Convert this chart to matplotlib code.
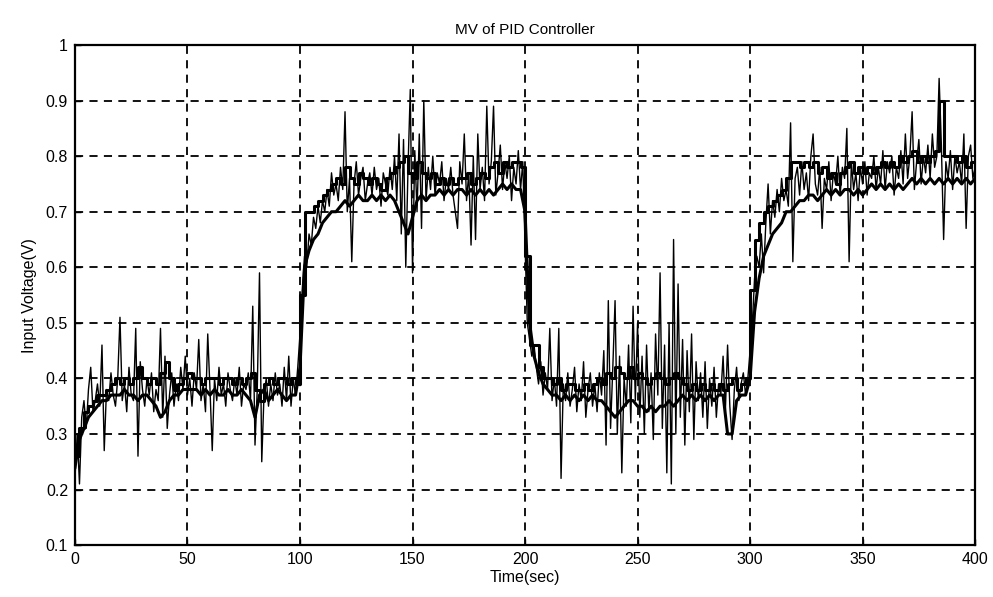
import numpy as np
import matplotlib
matplotlib.use("Agg")
import matplotlib.pyplot as plt

plt.rcParams['font.family'] = ['Liberation Sans', 'DejaVu Sans']

# Controller output (manipulated variable) of three runs
t_coarse = np.arange(0, 401, 2)   # 2 s sampling
t_fine = np.arange(0, 401, 1)     # 1 s sampling

mv_upper = [
    0.26, 0.31, 0.34, 0.35, 0.36, 0.37, 0.37, 0.38, 0.39, 0.40,
    0.39, 0.40, 0.39, 0.40, 0.42, 0.40, 0.39, 0.40, 0.39, 0.41,
    0.43, 0.40, 0.38, 0.39, 0.40, 0.41, 0.40, 0.40, 0.39, 0.40,
    0.40, 0.40, 0.39, 0.40, 0.40, 0.39, 0.40, 0.39, 0.40, 0.41,
    0.38, 0.36, 0.39, 0.40, 0.39, 0.40, 0.40, 0.39, 0.40, 0.39,
    0.55, 0.70, 0.70, 0.71, 0.72, 0.73, 0.74, 0.75, 0.76, 0.75,
    0.78, 0.76, 0.75, 0.77, 0.76, 0.75, 0.76, 0.75, 0.74, 0.76,
    0.77, 0.78, 0.79, 0.80, 0.77, 0.76, 0.79, 0.77, 0.76, 0.77,
    0.75, 0.76, 0.75, 0.76, 0.75, 0.76, 0.76, 0.77, 0.75, 0.76,
    0.77, 0.76, 0.78, 0.79, 0.77, 0.79, 0.78, 0.79, 0.79, 0.78,
    0.62, 0.46, 0.46, 0.42, 0.40, 0.40, 0.39, 0.40, 0.38, 0.39,
    0.39, 0.38, 0.38, 0.39, 0.38, 0.39, 0.40, 0.39, 0.41, 0.40,
    0.42, 0.41, 0.40, 0.42, 0.40, 0.41, 0.40, 0.39, 0.40, 0.41,
    0.40, 0.39, 0.40, 0.41, 0.40, 0.39, 0.38, 0.39, 0.38, 0.39,
    0.38, 0.39, 0.38, 0.39, 0.38, 0.39, 0.40, 0.38, 0.39, 0.40,
    0.56, 0.65, 0.68, 0.70, 0.71, 0.72, 0.73, 0.74, 0.76, 0.79,
    0.79, 0.78, 0.79, 0.78, 0.79, 0.77, 0.78, 0.76, 0.77, 0.75,
    0.77, 0.78, 0.79, 0.77, 0.78, 0.77, 0.78, 0.77, 0.78, 0.79,
    0.78, 0.79, 0.78, 0.80, 0.79, 0.80, 0.81, 0.79, 0.80, 0.79,
    0.80, 0.81, 0.90, 0.80, 0.80, 0.80, 0.79, 0.80, 0.78, 0.79, 0.78,
]

mv_lower = [
    0.24, 0.29, 0.31, 0.33, 0.34, 0.35, 0.36, 0.36, 0.37, 0.37,
    0.37, 0.38, 0.37, 0.37, 0.36, 0.37, 0.37, 0.36, 0.35, 0.33,
    0.34, 0.36, 0.37, 0.37, 0.38, 0.38, 0.38, 0.38, 0.37, 0.38,
    0.37, 0.38, 0.37, 0.37, 0.38, 0.37, 0.37, 0.38, 0.37, 0.36,
    0.33, 0.37, 0.38, 0.36, 0.37, 0.38, 0.37, 0.36, 0.37, 0.37,
    0.42, 0.60, 0.63, 0.65, 0.66, 0.68, 0.69, 0.70, 0.70, 0.71,
    0.72, 0.71, 0.72, 0.73, 0.72, 0.72, 0.73, 0.72, 0.73, 0.72,
    0.73, 0.72, 0.70, 0.68, 0.66, 0.69, 0.72, 0.73, 0.72, 0.73,
    0.73, 0.74, 0.73, 0.74, 0.73, 0.74, 0.74, 0.73, 0.74, 0.73,
    0.74, 0.73, 0.74, 0.73, 0.74, 0.75, 0.74, 0.75, 0.74, 0.74,
    0.70, 0.50, 0.44, 0.41, 0.39, 0.38, 0.37, 0.37, 0.36, 0.37,
    0.36, 0.37, 0.36, 0.37, 0.36, 0.37, 0.36, 0.36, 0.35, 0.34,
    0.33, 0.34, 0.35, 0.36, 0.36, 0.35, 0.35, 0.34, 0.35, 0.34,
    0.35, 0.35, 0.36, 0.35, 0.36, 0.37, 0.36, 0.37, 0.36, 0.37,
    0.36, 0.37, 0.36, 0.37, 0.37, 0.30, 0.30, 0.36, 0.37, 0.37,
    0.40, 0.52, 0.58, 0.62, 0.64, 0.66, 0.67, 0.68, 0.70, 0.70,
    0.71, 0.72, 0.72, 0.73, 0.73, 0.72, 0.73, 0.74, 0.73, 0.74,
    0.73, 0.74, 0.74, 0.73, 0.74, 0.73, 0.74, 0.75, 0.74, 0.75,
    0.74, 0.75, 0.74, 0.75, 0.74, 0.75, 0.76, 0.75, 0.76, 0.75,
    0.76, 0.75, 0.76, 0.75, 0.76, 0.75, 0.76, 0.75, 0.76, 0.75, 0.76,
]

mv_noisy = [
    0.22, 0.30, 0.21, 0.33, 0.36, 0.31, 0.38, 0.42, 0.34, 0.36,
    0.39, 0.35, 0.46, 0.27, 0.38, 0.36, 0.41, 0.37, 0.35, 0.40,
    0.51, 0.36, 0.39, 0.34, 0.42, 0.37, 0.36, 0.49, 0.26, 0.43,
    0.38, 0.35, 0.40, 0.37, 0.41, 0.34, 0.38, 0.36, 0.49, 0.33,
    0.44, 0.31, 0.37, 0.41, 0.35, 0.39, 0.36, 0.42, 0.38, 0.44,
    0.37, 0.40, 0.35, 0.41, 0.38, 0.47, 0.36, 0.39, 0.34, 0.48,
    0.38, 0.27, 0.40, 0.36, 0.42, 0.37, 0.39, 0.35, 0.41, 0.38,
    0.36, 0.40, 0.37, 0.42, 0.35, 0.39, 0.38, 0.41, 0.36, 0.53,
    0.28, 0.38, 0.59, 0.25, 0.37, 0.40, 0.35, 0.39, 0.36, 0.41,
    0.37, 0.39, 0.35, 0.42, 0.36, 0.44, 0.35, 0.40, 0.37, 0.42,
    0.48, 0.56, 0.62, 0.60, 0.66, 0.64, 0.69, 0.67, 0.71, 0.68,
    0.72, 0.70, 0.74, 0.71, 0.77, 0.73, 0.75, 0.72, 0.78, 0.74,
    0.88, 0.70, 0.76, 0.61, 0.75, 0.79, 0.73, 0.76, 0.78, 0.72,
    0.75, 0.77, 0.73, 0.78, 0.74, 0.76, 0.71, 0.77, 0.75, 0.73,
    0.78, 0.74, 0.80, 0.72, 0.84, 0.66, 0.83, 0.60, 0.78, 0.92,
    0.59, 0.81, 0.70, 0.84, 0.67, 0.90, 0.72, 0.78, 0.74, 0.80,
    0.73, 0.77, 0.75, 0.79, 0.72, 0.76, 0.74, 0.78, 0.73, 0.70,
    0.67, 0.79, 0.75, 0.84, 0.72, 0.77, 0.64, 0.80, 0.65, 0.84,
    0.74, 0.78, 0.72, 0.89, 0.75, 0.79, 0.89, 0.73, 0.77, 0.82,
    0.74, 0.79, 0.76, 0.80, 0.72, 0.78, 0.75, 0.81, 0.74, 0.79,
    0.64, 0.50, 0.47, 0.44, 0.46, 0.42, 0.39, 0.43, 0.37, 0.41,
    0.38, 0.49, 0.36, 0.40, 0.35, 0.49, 0.22, 0.39, 0.36, 0.41,
    0.35, 0.38, 0.42, 0.34, 0.39, 0.36, 0.43, 0.33, 0.38, 0.41,
    0.35, 0.39, 0.34, 0.41, 0.37, 0.45, 0.28, 0.54, 0.31, 0.42,
    0.54, 0.30, 0.44, 0.23, 0.40, 0.35, 0.46, 0.32, 0.53, 0.36,
    0.50, 0.33, 0.44, 0.30, 0.46, 0.34, 0.41, 0.29, 0.48, 0.37,
    0.59, 0.31, 0.46, 0.23, 0.50, 0.21, 0.65, 0.30, 0.57, 0.33,
    0.47, 0.28, 0.45, 0.34, 0.48, 0.29, 0.43, 0.36, 0.41, 0.33,
    0.43, 0.31, 0.40, 0.35, 0.42, 0.33, 0.39, 0.37, 0.44, 0.34,
    0.46, 0.35, 0.29, 0.38, 0.42, 0.36, 0.39, 0.41, 0.37, 0.40,
    0.45, 0.50, 0.58, 0.62, 0.60, 0.66, 0.59, 0.68, 0.75, 0.66,
    0.72, 0.69, 0.74, 0.70, 0.76, 0.72, 0.74, 0.71, 0.86, 0.61,
    0.76, 0.78, 0.73, 0.79, 0.74, 0.77, 0.72, 0.80, 0.84, 0.75,
    0.73, 0.78, 0.67, 0.76, 0.74, 0.79, 0.72, 0.77, 0.75, 0.80,
    0.73, 0.78, 0.76, 0.85, 0.61, 0.79, 0.74, 0.77, 0.72, 0.78,
    0.75, 0.79, 0.73, 0.77, 0.76, 0.80, 0.74, 0.78, 0.75, 0.81,
    0.74, 0.79, 0.77, 0.80, 0.73, 0.78, 0.76, 0.81, 0.75, 0.84,
    0.76, 0.80, 0.88, 0.74, 0.79, 0.83, 0.75, 0.80, 0.77, 0.82,
    0.76, 0.84, 0.78, 0.80, 0.94, 0.82, 0.65, 0.79, 0.76, 0.81,
    0.74, 0.80, 0.77, 0.79, 0.75, 0.84, 0.67, 0.80, 0.82, 0.76,
    0.78,
]

x_ticks = [0, 50, 100, 150, 200, 250, 300, 350, 400]
y_ticks = [0.1, 0.2, 0.3, 0.4, 0.5, 0.6, 0.7, 0.8, 0.9, 1.0]
y_tick_labels = ['0.1', '0.2', '0.3', '0.4', '0.5', '0.6', '0.7', '0.8', '0.9', '1']

fig = plt.figure(figsize=(9.93, 5.97), dpi=100)
ax = fig.add_axes([0.0755, 0.087, 0.9065, 0.8375])

ax.plot(t_fine, mv_noisy, color='black', lw=1.0)
ax.plot(t_coarse, mv_lower, color='black', lw=2.2)
ax.plot(t_coarse, mv_upper, color='black', lw=2.2, drawstyle='steps-post')

ax.set_xlim(0, 400)
ax.set_ylim(0.1, 1.0)
ax.set_xticks(x_ticks)
ax.set_yticks(y_ticks)
ax.set_yticklabels(y_tick_labels)
ax.tick_params(direction='in', length=4, width=1, labelsize=11.5, colors='black', pad=5)

ax.grid(True, color='black', linestyle=(0, (4.5, 3.5)), linewidth=1.3)
for s in ax.spines.values():
    s.set_linewidth(1.6)
    s.set_color('black')

ax.set_title('MV of PID Controller', fontsize=11, pad=8)
ax.set_xlabel('Time(sec)', fontsize=11.5, labelpad=2)
ax.set_ylabel('Input Voltage(V)', fontsize=11.5, labelpad=6)

fig.savefig('out.png', dpi=100)
